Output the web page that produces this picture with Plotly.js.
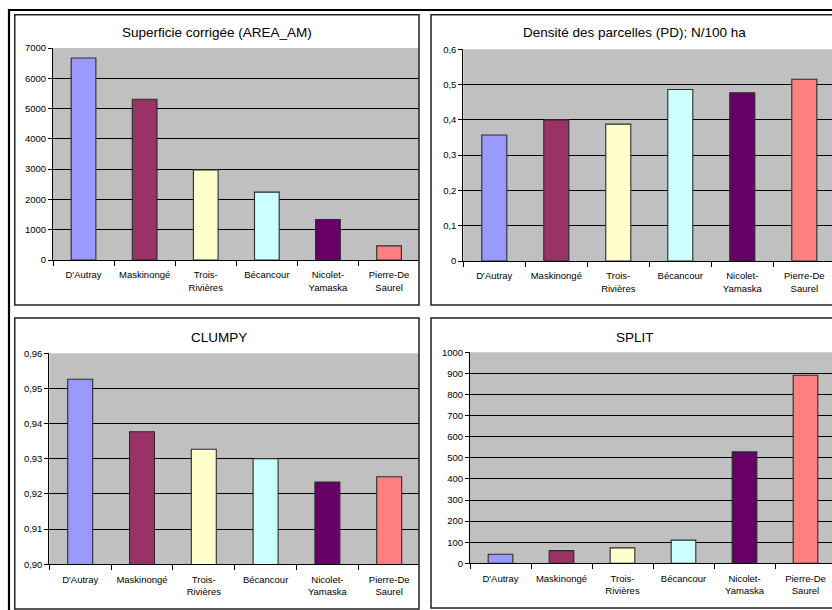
<!DOCTYPE html>
<html>
<head>
<meta charset="utf-8">
<script src="https://cdn.plot.ly/plotly-3.0.1.min.js"></script>
<style>
  html, body { margin: 0; padding: 0; background: #ffffff; }
  #chart { width: 832px; height: 610px; }
</style>
</head>
<body>
<div id="chart"></div>
<script>
// Landscape indicators by MRC (regional county municipality)
const districts = ["D'Autray", "Maskinongé", "Trois-<br>Rivières", "Bécancour", "Nicolet-<br>Yamaska", "Pierre-De<br>Saurel"];

// Superficie corrigée (AREA_AM)
const areaAm = [6670, 5310, 2975, 2240, 1335, 465];
// Densité des parcelles (PD), N/100 ha
const patchDensity = [0.357, 0.400, 0.388, 0.486, 0.477, 0.515];
// CLUMPY index
const clumpy = [0.9526, 0.9377, 0.9327, 0.9300, 0.9234, 0.9249];
// SPLIT index
const splitIdx = [43, 60, 73, 110, 528, 891];

const panelTitles = ["Superficie corrigée (AREA_AM)", "Densité des parcelles (PD); N/100 ha", "CLUMPY", "SPLIT"];

const barColors = ["#9999FF", "#993366", "#FFFFCC", "#CCFFFF", "#660066", "#FF8080"];

const W = 832, H = 610;
const fx = p => p / W;
const fy = p => 1 - p / H;
const FONT = "Liberation Sans, Arial, sans-serif";

// Pixel geometry of each chart: plot area and category width
const panels = [
  { values: areaAm,       left: 53,    right: 419, top: 48,    bottom: 260,   cat: 61.1, yr: [0, 7000],     dtick: 1000, fmt: "d",   box: [14.75, 14.75, 419, 305],  titleX: 216.5, titleY: 33 },
  { values: patchDensity, left: 463.3, right: 832, top: 49.3,  bottom: 261,   cat: 62.0, yr: [0, 0.6],      dtick: 0.1,  fmt: "",    box: [431, 14.75, 845, 305],    titleX: 634,   titleY: 33 },
  { values: clumpy,       left: 49.3,  right: 419, top: 353.3, bottom: 564.3, cat: 61.8, yr: [0.90, 0.96],  dtick: 0.01, fmt: ".2f", box: [14.75, 318, 419, 609],    titleX: 218.5, titleY: 337 },
  { values: splitIdx,     left: 470,   right: 832, top: 352.3, bottom: 563.3, cat: 61.0, yr: [0, 1000],     dtick: 100,  fmt: "d",   box: [431, 318, 845, 608],      titleX: 634.5, titleY: 337 }
];

const data = [];
const layout = {
  width: W, height: H,
  margin: { l: 0, r: 0, t: 0, b: 0 },
  paper_bgcolor: "#ffffff",
  plot_bgcolor: "#C0C0C0",
  separators: ", ",
  showlegend: false,
  bargap: 0.596,
  font: { family: FONT, color: "#000000" },
  annotations: [],
  shapes: []
};

panels.forEach((p, i) => {
  const n = i === 0 ? "" : String(i + 1);
  data.push({
    type: "bar",
    x: districts,
    y: p.values,
    xaxis: "x" + n,
    yaxis: "y" + n,
    marker: { color: barColors, line: { color: "#2a2a2a", width: 1.1 } },
    hoverinfo: "none"
  });

  layout["xaxis" + n] = {
    domain: [fx(p.left), fx(p.right)],
    anchor: "y" + n,
    type: "category",
    range: [-0.5, -0.5 + (p.right - p.left) / p.cat],
    tickson: "boundaries",
    ticks: "outside", ticklen: 5, tickwidth: 1, tickcolor: "#000000",
    showline: true, linecolor: "#000000", linewidth: 1,
    showgrid: false, zeroline: false,
    tickfont: { family: FONT, size: 9.5, color: "#000000" },
    ticklabelstandoff: 6,
    tickangle: 0,
    fixedrange: true
  };

  layout["yaxis" + n] = {
    domain: [fy(p.bottom), fy(p.top)],
    anchor: "x" + n,
    range: p.yr,
    tick0: p.yr[0], dtick: p.dtick,
    tickformat: p.fmt,
    ticks: "outside", ticklen: 4, tickwidth: 1, tickcolor: "#000000",
    showline: true, linecolor: "#000000", linewidth: 1,
    showgrid: true, gridcolor: "#000000", gridwidth: 1,
    zeroline: false,
    tickfont: { family: FONT, size: 9.5, color: "#000000" },
    fixedrange: true
  };

  layout.annotations.push({
    text: panelTitles[i],
    xref: "paper", yref: "paper",
    x: fx(p.titleX), y: fy(p.titleY),
    xanchor: "center", yanchor: "middle",
    showarrow: false,
    font: { family: FONT, size: 13.5, color: "#000000" }
  });

  // Chart frame
  layout.shapes.push({
    type: "rect", xref: "paper", yref: "paper", layer: "above",
    x0: fx(p.box[0]), y0: fy(p.box[3]), x1: fx(p.box[2]), y1: fy(p.box[1]),
    line: { color: "#222222", width: 1.5 }, fillcolor: "rgba(0,0,0,0)"
  });
});

// Heavy rule along the top and left of the sheet
layout.shapes.push({
  type: "path", xref: "paper", yref: "paper", layer: "above",
  path: `M ${fx(9)} ${fy(615)} L ${fx(9)} ${fy(10)} L ${fx(840)} ${fy(10)}`,
  line: { color: "#000000", width: 2.2 }
});

Plotly.newPlot("chart", data, layout, { displayModeBar: false, staticPlot: true });
</script>
</body>
</html>
